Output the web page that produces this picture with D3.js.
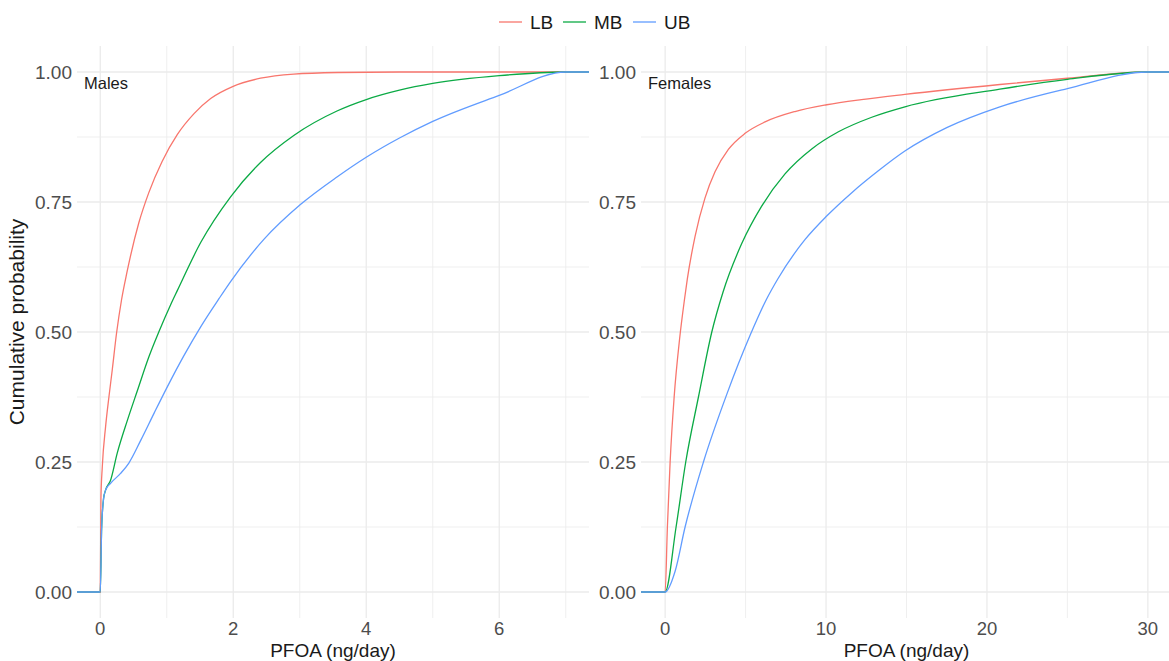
<!DOCTYPE html>
<html><head><meta charset="utf-8">
<script src="https://cdn.jsdelivr.net/npm/d3@7"></script>
<style>body{margin:0;background:#fff} text{font-family:"Liberation Sans",Arial,sans-serif}</style>
</head><body><svg id="c" width="1169" height="661"></svg>
<script>
// ---- data ----
const seriesNames = ["LB", "MB", "UB"];
const seriesColors = ["#F8766D", "#0BAA45", "#619CFF"];

// Males (PFOA ng/day vs cumulative probability)
const malesLB_x = [0, 0.01, 0.03, 0.08, 0.13, 0.18, 0.245, 0.32, 0.4, 0.58, 0.73, 0.93, 1.16, 1.41, 1.66, 1.99, 2.41, 2.91, 3.57, 4.5, 7];
const malesLB_y = [0, 0.18, 0.24, 0.318, 0.375, 0.427, 0.498, 0.562, 0.614, 0.71, 0.768, 0.828, 0.88, 0.92, 0.949, 0.972, 0.988, 0.996, 0.999, 1, 1];
const malesMB_x = [0, 0.02, 0.05, 0.08, 0.155, 0.255, 0.41, 0.56, 0.73, 0.88, 1.06, 1.16, 1.51, 1.96, 2.41, 2.91, 3.56, 4, 4.5, 5, 6, 7];
const malesMB_y = [0, 0.12, 0.18, 0.196, 0.215, 0.267, 0.331, 0.388, 0.452, 0.5, 0.553, 0.58, 0.672, 0.76, 0.826, 0.878, 0.925, 0.947, 0.965, 0.978, 0.993, 1];
const malesUB_x = [0, 0.02, 0.05, 0.08, 0.155, 0.305, 0.43, 0.61, 0.81, 1.01, 1.26, 1.51, 1.79, 1.96, 2.46, 3.01, 3.56, 4, 4.5, 5, 6, 7];
const malesUB_y = [0, 0.12, 0.18, 0.196, 0.209, 0.228, 0.248, 0.292, 0.344, 0.395, 0.455, 0.51, 0.565, 0.597, 0.678, 0.745, 0.798, 0.836, 0.873, 0.905, 0.955, 1];

// Females
const femalesLB_x = [0, 0.14, 0.31, 0.56, 0.9, 1.2, 1.38, 1.86, 2.48, 3.1, 3.93, 4.97, 6.21, 8.07, 10.04, 12.2, 14.9, 20.8, 25, 30];
const femalesLB_y = [0, 0.125, 0.25, 0.375, 0.487, 0.562, 0.602, 0.684, 0.758, 0.808, 0.851, 0.882, 0.904, 0.924, 0.937, 0.947, 0.957, 0.976, 0.988, 1];
const femalesMB_x = [0, 0.68, 1.28, 2.07, 2.9, 3.6, 4.76, 6.0, 7.45, 9.11, 10.77, 12.84, 14.9, 20.8, 25, 30];
const femalesMB_y = [0, 0.125, 0.25, 0.375, 0.5, 0.577, 0.67, 0.742, 0.804, 0.852, 0.885, 0.913, 0.933, 0.967, 0.986, 1];
const femalesUB_x = [0, 0.62, 1.24, 2.38, 3.83, 5.3, 6.3, 7.0, 8.7, 10.04, 11.6, 13.25, 14.9, 17.5, 20.8, 25, 30];
const femalesUB_y = [0, 0.04, 0.125, 0.25, 0.38, 0.495, 0.563, 0.602, 0.678, 0.723, 0.768, 0.81, 0.848, 0.893, 0.933, 0.968, 1];

const yTicks = [0, 0.25, 0.5, 0.75, 1];
const yMinor = [0.125, 0.375, 0.625, 0.875];
const malesXTicks = [0, 2, 4, 6];
const malesXMinor = [1, 3, 5, 7];
const femalesXTicks = [0, 10, 20, 30];
const femalesXMinor = [5, 15, 25];

const panels = [
  {label: "Males", domain: [-0.35, 7.35], range: [77, 589], ticks: malesXTicks, minor: malesXMinor,
   series: [[malesLB_x, malesLB_y], [malesMB_x, malesMB_y], [malesUB_x, malesUB_y]]},
  {label: "Females", domain: [-1.5, 31.5], range: [641, 1172], ticks: femalesXTicks, minor: femalesXMinor,
   series: [[femalesLB_x, femalesLB_y], [femalesMB_x, femalesMB_y], [femalesUB_x, femalesUB_y]]}
];

// ---- drawing ----
const svg = d3.select("#c");
const y = d3.scaleLinear().domain([-0.05, 1.05]).range([618, 46]);
const grid = "#ebebeb";

panels.forEach((p, pi) => {
  const x = d3.scaleLinear().domain(p.domain).range(p.range);
  const g = svg.append("g");
  const cid = "clip" + pi;
  svg.append("clipPath").attr("id", cid).append("rect")
    .attr("x", p.range[0]).attr("y", 46).attr("width", p.range[1] - p.range[0]).attr("height", 572);

  // minor grid
  g.selectAll(".ymin").data(yMinor).join("line")
    .attr("x1", p.range[0]).attr("x2", p.range[1]).attr("y1", d => y(d)).attr("y2", d => y(d))
    .attr("stroke", grid).attr("stroke-width", 0.8);
  g.selectAll(".xmin").data(p.minor).join("line")
    .attr("x1", d => x(d)).attr("x2", d => x(d)).attr("y1", 46).attr("y2", 618)
    .attr("stroke", grid).attr("stroke-width", 0.8);
  // major grid
  g.selectAll(".ymaj").data(yTicks).join("line")
    .attr("x1", p.range[0]).attr("x2", p.range[1]).attr("y1", d => y(d)).attr("y2", d => y(d))
    .attr("stroke", grid).attr("stroke-width", 1.3);
  g.selectAll(".xmaj").data(p.ticks).join("line")
    .attr("x1", d => x(d)).attr("x2", d => x(d)).attr("y1", 46).attr("y2", 618)
    .attr("stroke", grid).attr("stroke-width", 1.3);

  // y tick labels
  g.selectAll(".yl").data(yTicks).join("text")
    .attr("x", p.range[0] - 5).attr("y", d => y(d)).attr("dy", "0.36em")
    .attr("text-anchor", "end").attr("font-size", 19).attr("fill", "#4d4d4d")
    .text(d => d3.format(".2f")(d));
  // x tick labels
  g.selectAll(".xl").data(p.ticks).join("text")
    .attr("x", d => x(d)).attr("y", 635)
    .attr("text-anchor", "middle").attr("font-size", 18.5).attr("fill", "#4d4d4d")
    .text(d => d);
  // x title
  g.append("text").attr("x", (p.range[0] + p.range[1]) / 2).attr("y", 656.5)
    .attr("text-anchor", "middle").attr("font-size", 19).attr("fill", "#1a1a1a")
    .text("PFOA (ng/day)");

  // ECDF lines
  const line = d3.line().x(d => x(d[0])).y(d => y(d[1])).curve(d3.curveMonotoneX);
  const lg = g.append("g").attr("clip-path", `url(#${cid})`);
  p.series.forEach((s, si) => {
    const pts = s[0].map((v, i) => [v, s[1][i]]);
    pts.unshift([p.domain[0], 0]);
    pts.push([p.domain[1], 1]);
    lg.append("path").datum(pts).attr("d", line)
      .attr("fill", "none").attr("stroke", seriesColors[si]).attr("stroke-width", 1.3);
  });

  // panel label
  g.append("text").attr("x", p.range[0] + 7).attr("y", 89)
    .attr("font-size", 16.5).attr("fill", "#1a1a1a").text(p.label);
});

// y title
svg.append("text").attr("transform", "translate(24,322) rotate(-90)")
  .attr("text-anchor", "middle").attr("font-size", 21).attr("fill", "#1a1a1a")
  .text("Cumulative probability");

// legend
const legX = [499, 563, 633];
const leg = svg.append("g");
seriesNames.forEach((n, i) => {
  leg.append("line").attr("x1", legX[i]).attr("x2", legX[i] + 23).attr("y1", 22).attr("y2", 22)
    .attr("stroke", seriesColors[i]).attr("stroke-width", 1.3);
  leg.append("text").attr("x", legX[i] + 31).attr("y", 22).attr("dy", "0.36em")
    .attr("font-size", 19).attr("fill", "#1a1a1a").text(n);
});
</script></body></html>
